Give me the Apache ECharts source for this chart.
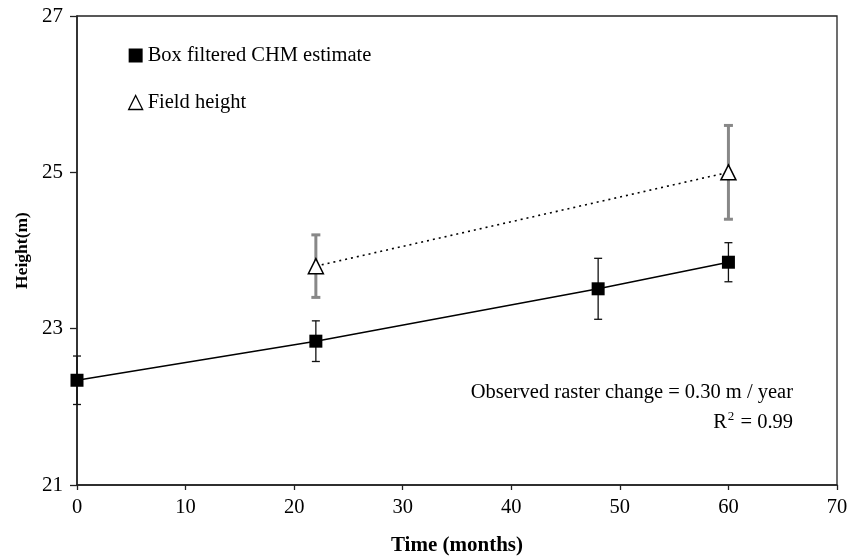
<!DOCTYPE html>
<html><head><meta charset="utf-8">
<script src="https://cdn.jsdelivr.net/npm/echarts@6/dist/echarts.min.js"></script>
<style>html,body{margin:0;padding:0;background:#fff}#c{width:850px;height:557px}</style>
</head><body><div id="c"></div>
<script>
var months = [0, 22, 48, 60];
var chmHeight = [22.34, 22.84, 23.51, 23.85];
var chmErr = [0.31, 0.26, 0.39, 0.25];
var fieldMonths = [22, 60];
var fieldHeight = [23.8, 25.0];
var fieldErr = [0.40, 0.60];
var xTicks = [0, 10, 20, 30, 40, 50, 60, 70];
var yTicks = [21, 23, 25, 27];

var FONT = '"Liberation Serif", "Times New Roman", serif';

function errData(xs, ys, es) {
  return xs.map(function (x, i) { return [x, ys[i] - es[i], ys[i] + es[i]]; });
}
function errRender(color, width, cap) {
  return function (params, api) {
    var lo = api.coord([api.value(0), api.value(1)]);
    var hi = api.coord([api.value(0), api.value(2)]);
    var st = { stroke: color, lineWidth: width };
    return { type: 'group', children: [
      { type: 'line', shape: { x1: lo[0], y1: lo[1], x2: hi[0], y2: hi[1] }, style: st },
      { type: 'line', shape: { x1: lo[0] - cap, y1: lo[1], x2: lo[0] + cap, y2: lo[1] }, style: st },
      { type: 'line', shape: { x1: hi[0] - cap, y1: hi[1], x2: hi[0] + cap, y2: hi[1] }, style: st }
    ]};
  };
}

var chart = echarts.init(document.getElementById('c'), null, { renderer: 'canvas' });
chart.setOption({
  animation: false,
  backgroundColor: '#fff',
  textStyle: { fontFamily: FONT, color: '#000' },
  grid: { left: 77, right: 13, top: 16, bottom: 72, show: true, borderColor: '#222', borderWidth: 1.3,
    containLabel: false, outerBoundsMode: 'none' },
  legend: {
    left: 123, top: 40, orient: 'vertical', itemGap: 26, itemWidth: 14, itemHeight: 14,
    textStyle: { fontFamily: FONT, fontSize: 20.5, color: '#000', padding: [0, 0, 0, 0] },
    data: [
      { name: 'Box filtered CHM estimate', icon: 'rect', itemStyle: { color: '#000' } },
      { name: 'Field height', icon: 'triangle', itemStyle: { color: '#fff', borderColor: '#000', borderWidth: 1.3 } }
    ]
  },
  xAxis: {
    type: 'value', min: 0, max: 70, interval: 10,
    name: 'Time (months)', nameLocation: 'middle', nameGap: 50,
    nameTextStyle: { fontFamily: FONT, fontSize: 21, fontWeight: 'bold', color: '#000' },
    axisLine: { lineStyle: { color: '#222', width: 1.5 } },
    axisTick: { show: true, inside: false, length: 5, lineStyle: { color: '#222', width: 1.3 } },
    axisLabel: { fontFamily: FONT, fontSize: 20.5, color: '#000', margin: 12,
      formatter: function (v) { return xTicks.indexOf(v) >= 0 ? String(v) : ''; } },
    splitLine: { show: false }
  },
  yAxis: {
    type: 'value', min: 21, max: 27, interval: 2,
    name: 'Height(m)', nameLocation: 'middle', nameGap: 46,
    nameTextStyle: { fontFamily: FONT, fontSize: 17.5, fontWeight: 'bold', color: '#000' },
    axisLine: { show: true, lineStyle: { color: '#222', width: 1.5 } },
    axisTick: { show: true, inside: false, length: 7, lineStyle: { color: '#222', width: 1.3 } },
    axisLabel: { fontFamily: FONT, fontSize: 21, color: '#000', margin: 14,
      formatter: function (v) { return yTicks.indexOf(v) >= 0 ? String(v) : ''; } },
    splitLine: { show: false }
  },
  series: [
    { type: 'custom', name: 'chmErr', renderItem: errRender('#111', 1.3, 4), data: errData(months, chmHeight, chmErr), z: 1, silent: true },
    { type: 'custom', name: 'fieldErr', renderItem: errRender('#888', 3, 4.5), data: errData(fieldMonths, fieldHeight, fieldErr), z: 1, silent: true },
    { type: 'line', name: 'Box filtered CHM estimate', data: months.map(function (m, i) { return [m, chmHeight[i]]; }),
      symbol: 'rect', symbolSize: 13, itemStyle: { color: '#000' }, lineStyle: { color: '#000', width: 1.5 }, z: 3 },
    { type: 'line', name: 'Field height', data: fieldMonths.map(function (m, i) { return [m, fieldHeight[i]]; }),
      symbol: 'triangle', symbolSize: 15, showAllSymbol: true,
      itemStyle: { color: '#fff', borderColor: '#000', borderWidth: 1.5 },
      lineStyle: { color: '#000', width: 1.6, type: [2, 4] }, z: 3 }
  ],
  graphic: [
    { type: 'text', right: 57, top: 382, style: { text: 'Observed raster change = 0.30 m / year', font: '20.5px ' + FONT, fill: '#000' } },
    { type: 'text', right: 57, top: 410, style: { text: '{n|R}{sup|2}{n| = 0.99}', font: '20.5px ' + FONT, fill: '#000',
      rich: {
        n: { fontSize: 20.5, fontFamily: FONT, lineHeight: 24, verticalAlign: 'bottom' },
        sup: { fontSize: 13, fontFamily: FONT, lineHeight: 13, verticalAlign: 'bottom', padding: [0, 1, 10, 1] }
      } } }
  ]
});
</script>
</body></html>
